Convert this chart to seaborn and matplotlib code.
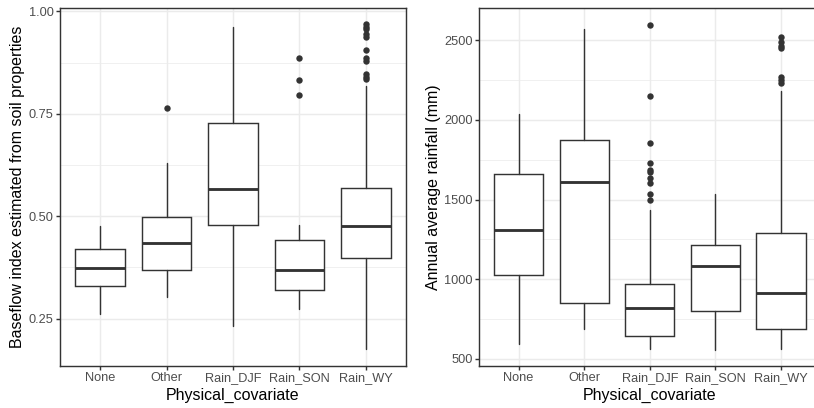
import numpy as np
import pandas as pd
import matplotlib
matplotlib.use("Agg")
import matplotlib.pyplot as plt
import seaborn as sns

sns.set_theme(style="white")
plt.rcParams['font.family'] = ['Liberation Sans', 'DejaVu Sans']

# values
categories = ["None", "Other", "Rain_DJF", "Rain_SON", "Rain_WY"]

bfi_whislo = [0.262, 0.304, 0.231, 0.273, 0.175]
bfi_q1 = [0.331, 0.368, 0.479, 0.320, 0.397]
bfi_med = [0.373, 0.435, 0.567, 0.368, 0.475]
bfi_q3 = [0.419, 0.498, 0.728, 0.441, 0.568]
bfi_whishi = [0.476, 0.629, 0.963, 0.479, 0.818]
bfi_outliers = [[], [0.765], [], [0.887, 0.832, 0.796],
                [0.968, 0.963, 0.957, 0.945, 0.938, 0.905, 0.887, 0.880, 0.847, 0.840, 0.836]]

rain_whislo = [590, 687, 563, 557, 563]
rain_q1 = [1028, 852, 643, 802, 689]
rain_med = [1308, 1612, 821, 1082, 913]
rain_q3 = [1662, 1874, 971, 1216, 1290]
rain_whishi = [2035, 2573, 1434, 1533, 2184]
rain_outliers = [[], [], [2594, 2150, 1858, 1729, 1683, 1671, 1633, 1604, 1537, 1496],
                 [], [2519, 2492, 2466, 2454, 2268, 2251, 2234]]

GREY20 = "#333333"
GREY30 = "#4D4D4D"
GRID = "#EBEBEB"
LW = 1.07


def draw_panel(ax, lo, q1, med, q3, hi, outl, ylabel, yticks, ylabels, yminor, ylim):
    stats = []
    for i, cat in enumerate(categories):
        stats.append({"label": cat, "whislo": lo[i], "q1": q1[i], "med": med[i],
                      "q3": q3[i], "whishi": hi[i], "fliers": []})

    # outlier points with seaborn
    pts = pd.DataFrame([(c, v) for c, vals in zip(categories, outl) for v in vals],
                       columns=["Physical_covariate", "value"])
    sns.stripplot(data=pts, x="Physical_covariate", y="value", order=categories,
                  jitter=False, color=GREY20, size=4.8, linewidth=0, ax=ax, zorder=4)

    ax.bxp(stats, positions=range(len(categories)), widths=0.75, showcaps=False,
           showfliers=False, patch_artist=True, manage_ticks=False,
           boxprops=dict(facecolor="white", edgecolor=GREY20, linewidth=LW),
           whiskerprops=dict(color=GREY20, linewidth=LW),
           medianprops=dict(color=GREY20, linewidth=2 * LW, solid_capstyle="butt"),
           zorder=3)

    ax.set_xlim(-0.6, len(categories) - 0.4)
    ax.set_ylim(*ylim)
    ax.set_xticks(range(len(categories)))
    ax.set_xticklabels(categories)
    ax.set_yticks(yticks)
    ax.set_yticklabels(ylabels)
    ax.set_yticks(yminor, minor=True)

    ax.set_axisbelow(True)
    ax.grid(True, which="major", color=GRID, linewidth=LW)
    ax.grid(True, which="minor", axis="y", color=GRID, linewidth=LW / 2)

    for s in ax.spines.values():
        s.set_color(GREY20)
        s.set_linewidth(LW)
        s.set_visible(True)

    ax.tick_params(axis="both", which="major", length=2.75, width=LW, color=GREY20,
                   labelcolor=GREY30, labelsize=9.6, pad=2.2, bottom=True, left=True)
    ax.tick_params(axis="both", which="minor", length=0)

    ax.set_xlabel("Physical_covariate", fontsize=12, color="black", labelpad=2.75)
    ax.set_ylabel(ylabel, fontsize=12, color="black", labelpad=2.75)


fig = plt.figure(figsize=(814 / 96, 408 / 96), dpi=96)
W, H = 814, 408
ax1 = fig.add_axes([60.3 / W, (H - 365.7) / H, 345.4 / W, 357.2 / H])
ax2 = fig.add_axes([479.3 / W, (H - 365.7) / H, 341.0 / W, 357.2 / H])

draw_panel(ax1, bfi_whislo, bfi_q1, bfi_med, bfi_q3, bfi_whishi, bfi_outliers,
           "Baseflow index estimated from soil properties",
           [0.25, 0.50, 0.75, 1.00], ["0.25", "0.50", "0.75", "1.00"],
           [0.375, 0.625, 0.875], (0.1353, 1.007))

draw_panel(ax2, rain_whislo, rain_q1, rain_med, rain_q3, rain_whishi, rain_outliers,
           "Annual average rainfall (mm)",
           [500, 1000, 1500, 2000, 2500], ["500", "1000", "1500", "2000", "2500"],
           [750, 1250, 1750, 2250], (456, 2700))

fig.savefig("out.png", dpi=96, facecolor="white")
